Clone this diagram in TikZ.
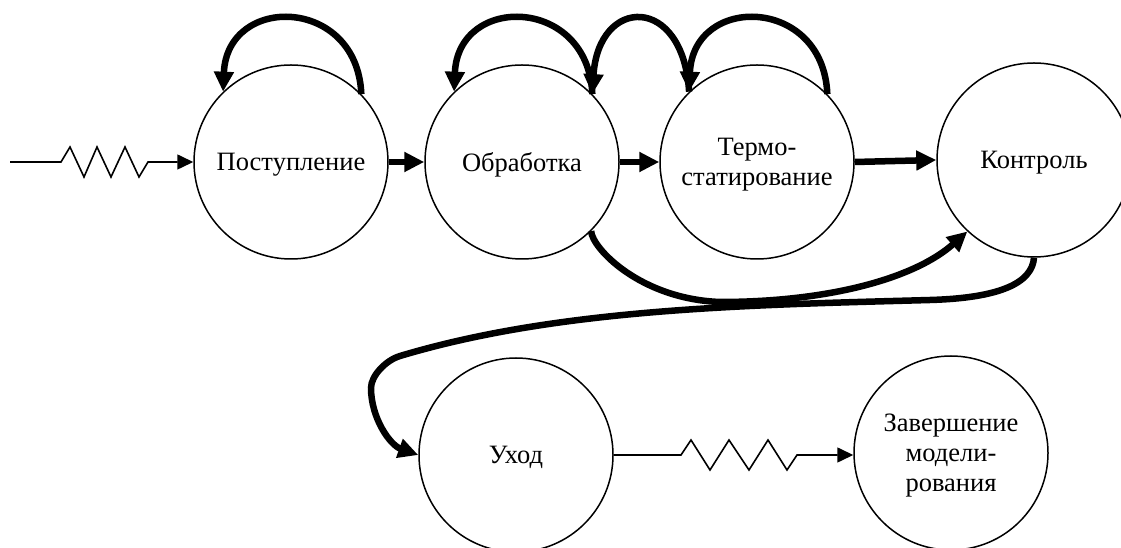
\documentclass[tikz,border=0pt]{standalone}
\usepackage{fontspec}
\setmainfont{Liberation Serif}
\usetikzlibrary{arrows.meta}
\begin{document}
\begin{tikzpicture}[x=1pt,y=1pt,
  state/.style={circle,draw,line width=1.5pt,minimum size=194pt,inner sep=0pt,align=center,text depth=0pt,font=\fontsize{26.5}{30}\selectfont},
  thinarrow/.style={line width=1.6pt,-{Triangle[length=16pt,width=15pt]}},
  heavy/.style={line width=6.5pt,-{Triangle[length=20pt,width=19pt]}},
]
\useasboundingbox (0,0) rectangle (1121,548);
\node[state] (P) at (291,386) {Поступление};
\node[state] (O) at (522,386) {Обработка};
\node[state] (T) at (757,386) {Термо-\\статирование};
\node[state] (K) at (1034,388) {Контроль};
\node[state] (U) at (516,93) {Уход};
\node[state] (Z) at (951,95) {Завершение\\модели-\\рования};
\coordinate (in) at (10,386);
% input with zigzag
\draw[thinarrow] (in) -- (61,386) -- (70,401) -- (84,371) -- (97,401) -- (111,371) -- (125,401) -- (139,371) -- (148,386) -- (P.west);
% self loops and back arc
\draw[heavy] (P.44) .. controls +(-4,98) and +(4,98) .. (P.134);
\draw[heavy] (O.44) .. controls +(-4,98) and +(4,98) .. (O.134);
\draw[heavy] (T.134) .. controls +(-6,98) and +(6,98) .. (O.44);
\draw[heavy] (T.44) .. controls +(-4,98) and +(4,98) .. (T.134);
% straight heavy arrows
\draw[heavy] (P.east) -- (O.west);
\draw[heavy] (O.east) -- (T.west);
\draw[heavy] (T.east) -- (K.west);
% long curves
\draw[heavy] (O.-45) .. controls (592,300) and (640,249) .. (720,246) .. controls (830,246) and (915,270) .. (K.227);
\draw[heavy] (K.south) .. controls (1032,265) and (1000,250) .. (930,248) .. controls (750,243) and (560,240) .. (400,192) .. controls (385.6,187.7) and (371,172) .. (371,160) .. controls (371,130) and (390,103) .. (U.west);
% bottom zigzag
\draw[thinarrow] (U.east) -- (681,93) -- (691,108) -- (710,78) -- (729,108) -- (749,78) -- (768,108) -- (787,78) -- (797,93) -- (Z.west |- U.east);
\end{tikzpicture}
\end{document}
